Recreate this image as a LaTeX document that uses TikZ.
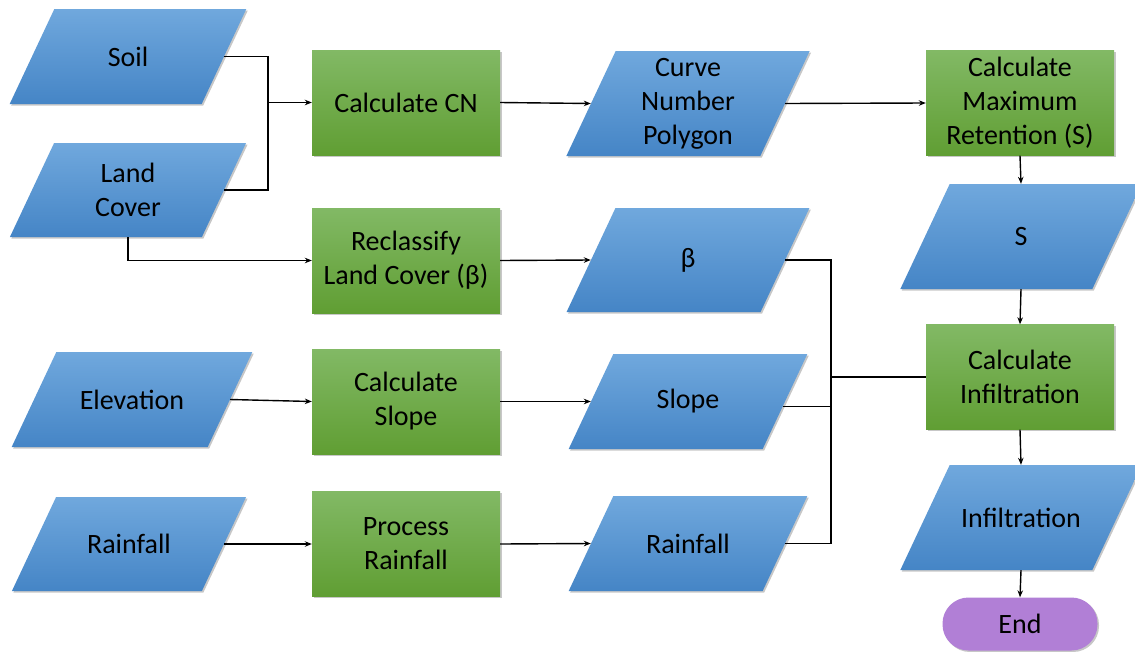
\documentclass[tikz,border=0pt]{standalone}
\usepackage{fontspec}
\setmainfont{Carlito}
\usetikzlibrary{shadows,arrows.meta}

\definecolor{bluetop}{HTML}{70A8DD}
\definecolor{bluebot}{HTML}{4585C6}
\definecolor{greentop}{HTML}{82B965}
\definecolor{greenbot}{HTML}{609E33}
\definecolor{endpurple}{HTML}{B17FD6}

\tikzset{
  txt/.style={font=\fontsize{28pt}{34pt}\selectfont, align=center, text=black, inner sep=0pt},
  softshadow/.style={drop shadow={shadow xshift=1.5pt, shadow yshift=-1.5pt, opacity=0.22, fill=black}},
  procbox/.style={txt, rectangle, top color=greentop, bottom color=greenbot,
                  minimum width=188pt, minimum height=105pt, softshadow},
  databg/.style={top color=bluetop, bottom color=bluebot, softshadow},
  endbox/.style={txt, rectangle, rounded corners=26pt, fill=endpurple,
                 minimum width=155pt, minimum height=53pt, softshadow},
  link/.style={line width=1.4pt, draw=black},
  arr/.style={link, -{Stealth[length=7pt,width=5.5pt]}},
}

% data (parallelogram) node: name, x, y, mid width, height, text
\newcommand\dataio[6]{%
  \shade[databg] ({#2-#4/2-0.235*#5},{#3+#5/2}) -- ({#2+#4/2-0.235*#5},{#3+#5/2})
        -- ({#2+#4/2+0.235*#5},{#3-#5/2}) -- ({#2-#4/2+0.235*#5},{#3-#5/2}) -- cycle;
  \node[txt, minimum width=#4pt, minimum height=#5pt] (#1) at (#2,#3) {#6};
}

\begin{document}
\begin{tikzpicture}[x=1pt, y=-1pt]
\useasboundingbox (0,0) rectangle (1135,651);
\clip (0,0) rectangle (1135,651);

% inputs
\dataio{soil}{128}{56.5}{192}{95}{Soil}
\dataio{land}{128}{190}{192}{94}{Land\\Cover}
\dataio{elev}{132}{399.5}{196}{95}{Elevation}
\dataio{rainin}{129}{544}{190}{94}{Rainfall}

% processing steps
\node[procbox] (calccn)   at (406,102.5) {Calculate CN};
\node[procbox] (reclass)  at (406,260.5) {Reclassify\\Land Cover (β)};
\node[procbox] (calcslope) at (406,401.5) {Calculate\\Slope};
\node[procbox] (procrain) at (406,544) {Process\\Rainfall};

% intermediate data
\dataio{cnpoly}{688}{103.5}{194}{105}{Curve\\Number\\Polygon}
\dataio{beta}{688}{260}{194}{104}{β}
\dataio{slope}{688}{401.5}{194}{95}{Slope}
\dataio{rainout}{688}{543.5}{194}{95}{Rainfall}

% right-hand chain
\node[procbox] (maxret) at (1020,103) {Calculate\\Maximum\\Retention (S)};
\dataio{smax}{1021}{236.5}{192}{105}{S}
\node[procbox] (calcinf) at (1020,377) {Calculate\\Infiltration};
\dataio{infil}{1021}{517.5}{192}{105}{Infiltration}
\node[endbox] (finish) at (1020,624) {End};

% junctions
\coordinate (j1) at (268,102.5);
\coordinate (bus) at (831,377);
\coordinate (slopeout) at ([yshift=-5pt]slope.east);

% connectors
\draw[link] (soil.east) -| (j1);
\draw[link] (land.east) -| (j1);
\draw[arr] (j1) -- (calccn.west);
\draw[arr] (land.south) |- (reclass.west);
\draw[arr] (elev.east) -- (calcslope.west);
\draw[arr] (rainin.east) -- (procrain.west);

\draw[arr] (calccn.east) -- (cnpoly.west);
\draw[arr] (reclass.east) -- (beta.west);
\draw[arr] (calcslope.east) -- (slope.west);
\draw[arr] (procrain.east) -- (rainout.west);

\draw[arr] (cnpoly.east) -- (maxret.west);
\draw[link] (beta.east) -| (bus) |- (rainout.east);
\draw[link] ([xshift=-2pt]slopeout) -- (slopeout -| bus);
\draw[link] (bus) -- (calcinf.west);

\draw[arr] (maxret.south) -- (smax.north);
\draw[arr] (smax.south) -- (calcinf.north);
\draw[arr] (calcinf.south) -- (infil.north);
\draw[arr] (infil.south) -- (finish.north);
\end{tikzpicture}
\end{document}
